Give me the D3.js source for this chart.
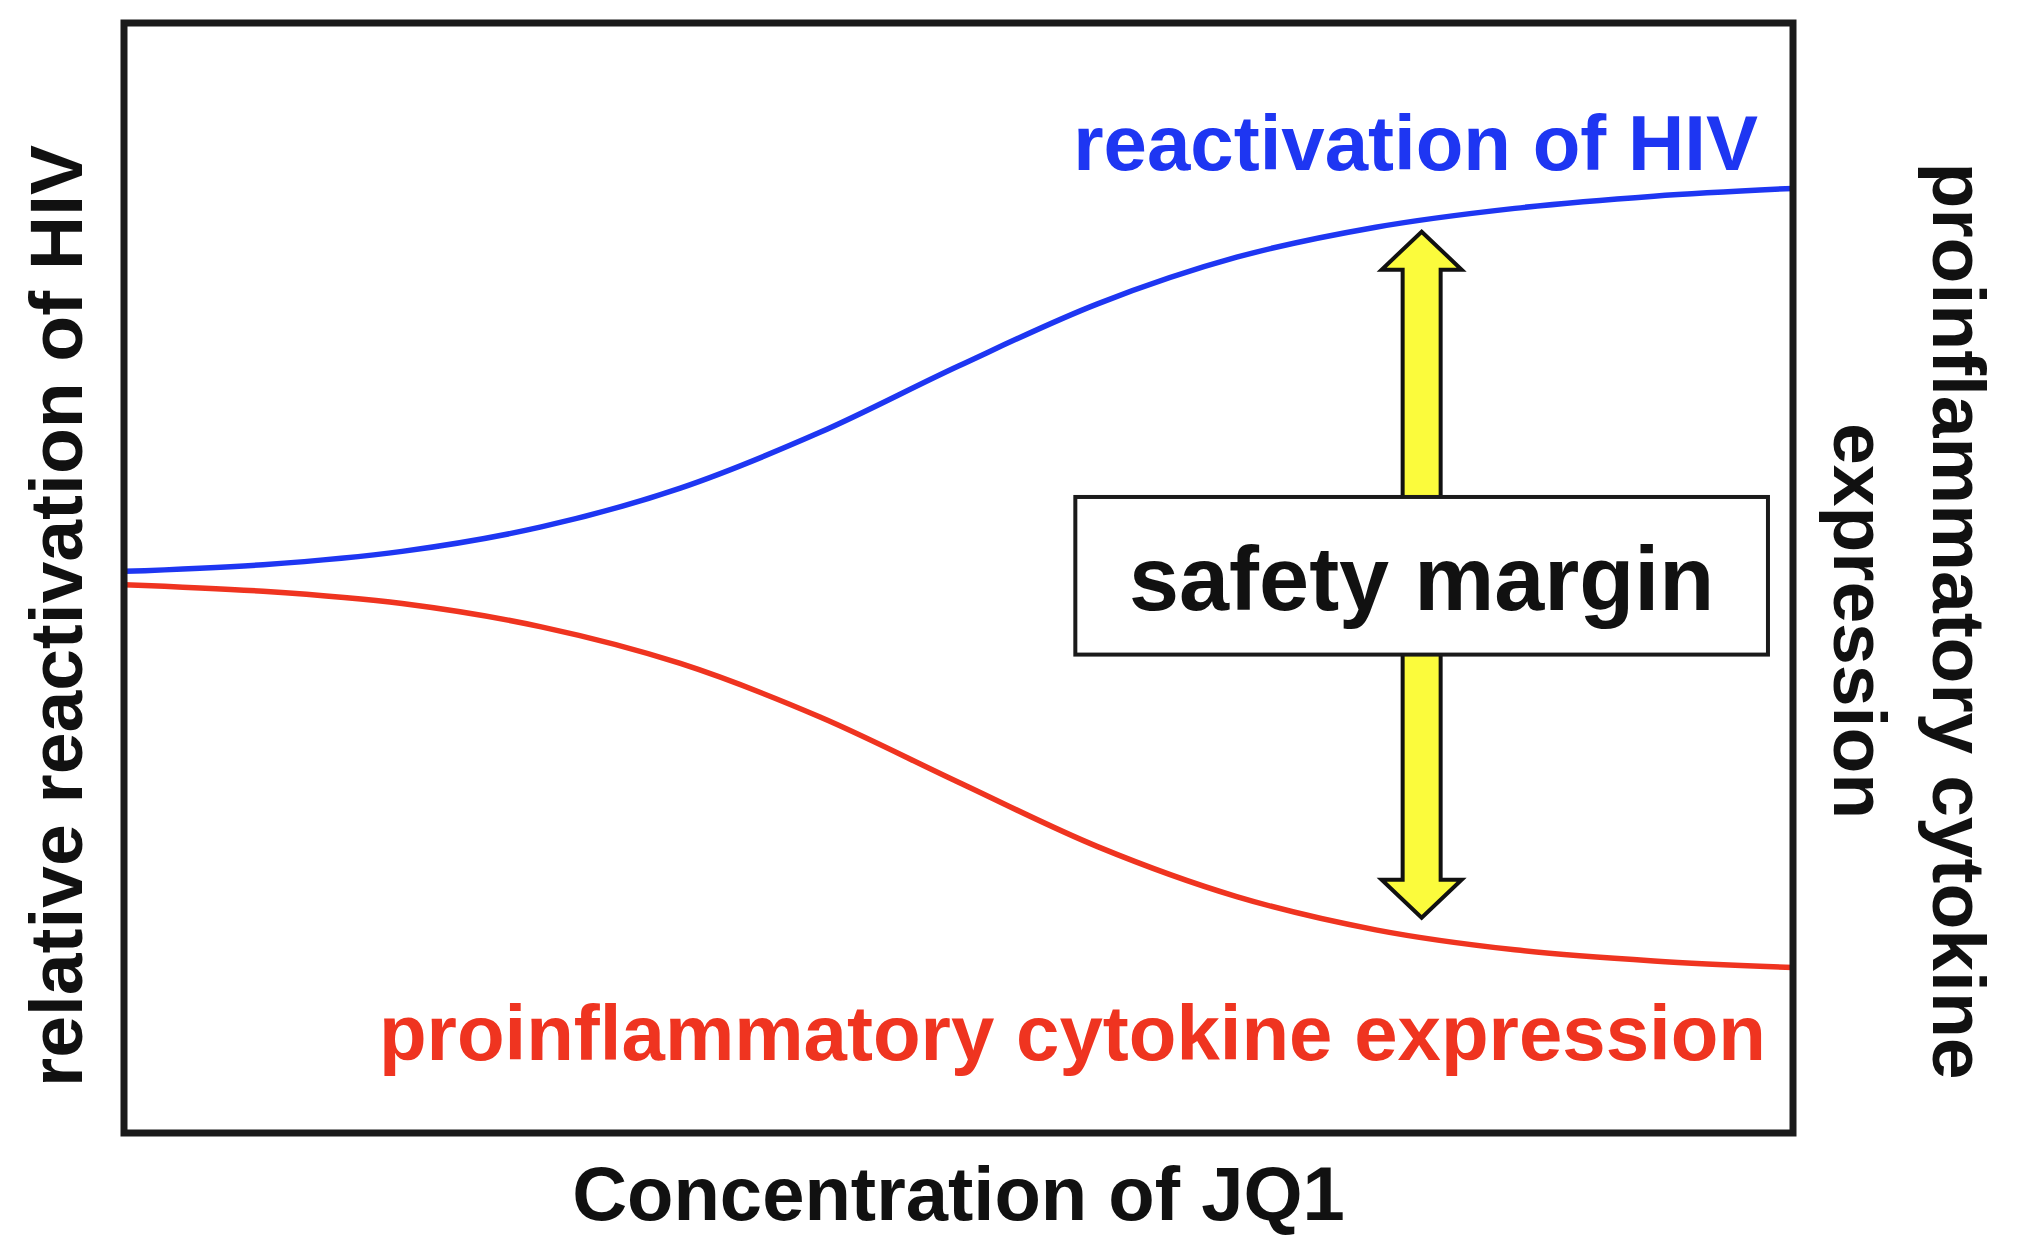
<!DOCTYPE html>
<html>
<head>
<meta charset="utf-8">
<script src="https://cdn.jsdelivr.net/npm/d3@7"></script>
<style>
  html, body { margin: 0; padding: 0; background: #ffffff; }
  svg { display: block; }
  text { font-family: "Liberation Sans", Arial, Helvetica, sans-serif; font-weight: bold; }
</style>
</head>
<body>
<svg id="chart" width="2018" height="1241"></svg>
<script>
// ---- data (concentration index vs relative level, 0-100) ----
const concentration = [0, 1, 2, 3, 4, 5, 6, 7, 8, 9, 10, 11, 12];
const hivReactivation = [50.6, 51.2, 52.4, 54.6, 58.1, 63.1, 69.1, 74.7, 78.9, 81.6, 83.3, 84.4, 85.1];
const cytokineExpression = [49.4, 48.8, 47.7, 45.6, 42.3, 37.5, 31.6, 25.8, 21.3, 18.3, 16.5, 15.5, 14.9];
const seriesNames = ["reactivation of HIV", "proinflammatory cytokine expression"];
const xAxisTitle = "Concentration of JQ1";
const yAxisTitle = "relative reactivation of HIV";
const y2AxisTitle = ["proinflammatory cytokine", "expression"];
const annotationText = "safety margin";
const marginX = [9.33];            // concentration where the safety margin arrow sits
const marginRange = [81.2, 19.4];  // arrow tip levels (top, bottom)

// ---- layout ----
const svg = d3.select("#chart");
const plot = { left: 124, right: 1793, top: 23, bottom: 1133 };
const blue = "#1e36f2";
const red = "#ef3420";

const x = d3.scaleLinear().domain([0, 12]).range([plot.left, plot.right]);
const y = d3.scaleLinear().domain([0, 100]).range([plot.bottom, plot.top]);

// curves
const line = d3.line().x(d => x(d[0])).y(d => y(d[1])).curve(d3.curveCatmullRom.alpha(0.5));
const series = [
  { name: seriesNames[0], values: hivReactivation, color: blue },
  { name: seriesNames[1], values: cytokineExpression, color: red }
];
svg.append("g").selectAll("path").data(series).join("path")
  .attr("d", s => line(concentration.map((c, i) => [c, s.values[i]])))
  .attr("fill", "none")
  .attr("stroke", s => s.color)
  .attr("stroke-width", 5.5)
  .attr("stroke-linecap", "butt");

// double arrow (safety margin)
const ax = x(marginX[0]);
const yTop = y(marginRange[0]);
const yBot = y(marginRange[1]);
const shaftHalf = 19, headHalf = 40, headLen = 38;
const arrowPath = [
  [ax, yTop],
  [ax + headHalf, yTop + headLen],
  [ax + shaftHalf, yTop + headLen],
  [ax + shaftHalf, yBot - headLen],
  [ax + headHalf, yBot - headLen],
  [ax, yBot],
  [ax - headHalf, yBot - headLen],
  [ax - shaftHalf, yBot - headLen],
  [ax - shaftHalf, yTop + headLen],
  [ax - headHalf, yTop + headLen]
];
svg.append("path")
  .attr("d", d3.line()(arrowPath) + "Z")
  .attr("fill", "#fbfb3c")
  .attr("stroke", "#111")
  .attr("stroke-width", 4)
  .attr("stroke-linejoin", "miter");

// safety margin box
const boxX0 = x(6.84), boxX1 = x(11.82);
const boxY0 = y(57.3), boxY1 = y(43.1);
svg.append("rect")
  .attr("x", boxX0).attr("y", boxY0)
  .attr("width", boxX1 - boxX0).attr("height", boxY1 - boxY0)
  .attr("fill", "#ffffff")
  .attr("stroke", "#1a1a1a")
  .attr("stroke-width", 4);
svg.append("text")
  .attr("x", (boxX0 + boxX1) / 2)
  .attr("y", 610)
  .attr("text-anchor", "middle")
  .attr("font-size", 90)
  .attr("fill", "#111")
  .text(annotationText);

// series labels
svg.append("text")
  .attr("x", 1758).attr("y", 170)
  .attr("text-anchor", "end")
  .attr("font-size", 78)
  .attr("fill", blue)
  .text(seriesNames[0]);
svg.append("text")
  .attr("x", 1766).attr("y", 1060)
  .attr("text-anchor", "end")
  .attr("font-size", 78)
  .attr("fill", red)
  .text(seriesNames[1]);

// frame
svg.append("rect")
  .attr("x", plot.left).attr("y", plot.top)
  .attr("width", plot.right - plot.left)
  .attr("height", plot.bottom - plot.top)
  .attr("fill", "none")
  .attr("stroke", "#1a1a1a")
  .attr("stroke-width", 7);

// axis titles
svg.append("text")
  .attr("transform", `translate(${(plot.left + plot.right) / 2},1220)`)
  .attr("text-anchor", "middle")
  .attr("font-size", 76)
  .attr("fill", "#111")
  .text(xAxisTitle);

svg.append("text")
  .attr("transform", "translate(82,616) rotate(-90)")
  .attr("text-anchor", "middle")
  .attr("font-size", 75)
  .attr("fill", "#111")
  .text(yAxisTitle);

svg.append("g")
  .attr("transform", "translate(1933,621) rotate(90)")
  .selectAll("text").data(y2AxisTitle).join("text")
  .attr("x", 0)
  .attr("y", (d, i) => i * 99)
  .attr("text-anchor", "middle")
  .attr("font-size", 75)
  .attr("fill", "#111")
  .text(d => d);
</script>
</body>
</html>
